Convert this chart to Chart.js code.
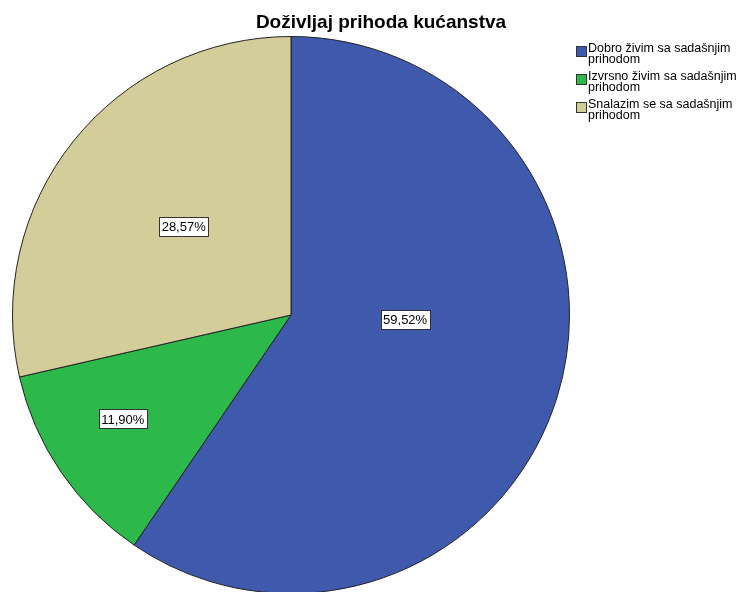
<!DOCTYPE html>
<html>
<head>
<meta charset="utf-8">
<script src="https://cdn.jsdelivr.net/npm/chart.js@4"></script>
<style>
  body { margin: 0; background: #fff; font-family: "Liberation Sans", Arial, sans-serif; }
  #wrap { position: relative; width: 742px; height: 592px; overflow: hidden; }
  #title { position: absolute; left: 0; width: 762px; top: 11px; text-align: center;
    font-weight: bold; font-size: 19px; color: #000; }
  #legend { position: absolute; left: 576px; top: 43px; font-size: 12.5px; color: #000; }
  .item { position: relative; padding-left: 12px; line-height: 10.5px; margin-bottom: 7px; width: 170px; }
  .box { position: absolute; left: 0; top: 3px; width: 9px; height: 9px; border: 1px solid #333; }
</style>
</head>
<body>
<div id="wrap">
  <canvas id="pie" width="742" height="600"></canvas>
  <div id="title">Doživljaj prihoda kućanstva</div>
  <div id="legend"></div>
</div>
<script>
// ==== DỮ LIỆU ====
const categories = ["Dobro živim sa sadašnjim prihodom", "Izvrsno živim sa sadašnjim prihodom", "Snalazim se sa sadašnjim prihodom"];
const legendLines = [["Dobro živim sa sadašnjim", "prihodom"], ["Izvrsno živim sa sadašnjim", "prihodom"], ["Snalazim se sa sadašnjim", "prihodom"]];
const percents = [59.52, 11.90, 28.57];
const colors = ["#3F59AC", "#2DB84B", "#D3CD99"];

// vị trí nhãn: phần góc trong lát và phần bán kính
const labelAngleFrac = [0.43, 0.56, 0.51];
const labelRadiusFrac = [0.41, 0.71, 0.50];

function formatPct(v) {
  return v.toFixed(2).replace(".", ",") + "%";
}

// legend HTML
const legendEl = document.getElementById("legend");
categories.forEach((c, i) => {
  legendEl.innerHTML += `<div class="item"><span class="box" style="background:${colors[i]}"></span>${legendLines[i].join("<br>")}</div>`;
});

// plugin vẽ nhãn phần trăm
const pctLabels = {
  id: "pctLabels",
  afterDatasetsDraw(chart) {
    const ctx = chart.ctx;
    const meta = chart.getDatasetMeta(0);
    ctx.save();
    ctx.font = "13px 'Liberation Sans', Arial, sans-serif";
    ctx.textAlign = "center";
    ctx.textBaseline = "middle";
    meta.data.forEach((arc, i) => {
      const p = arc.getProps(["x", "y", "startAngle", "endAngle", "outerRadius"], true);
      const a = p.startAngle + (p.endAngle - p.startAngle) * labelAngleFrac[i];
      const r = p.outerRadius * labelRadiusFrac[i];
      const x = p.x + Math.cos(a) * r;
      const y = p.y + Math.sin(a) * r;
      const txt = formatPct(percents[i]);
      const w = ctx.measureText(txt).width + 5;
      const h = 19;
      ctx.fillStyle = "#fff";
      ctx.fillRect(Math.round(x - w / 2) + 0.5, Math.round(y - h / 2) + 0.5, Math.round(w), h);
      ctx.strokeStyle = "#333";
      ctx.lineWidth = 1;
      ctx.strokeRect(Math.round(x - w / 2) + 0.5, Math.round(y - h / 2) + 0.5, Math.round(w), h);
      ctx.fillStyle = "#000";
      ctx.fillText(txt, x, y + 1);
    });
    ctx.restore();
  }
};

new Chart(document.getElementById("pie").getContext("2d"), {
  type: "pie",
  data: {
    labels: categories,
    datasets: [{
      data: percents,
      backgroundColor: colors,
      borderColor: "#222",
      borderWidth: 1
    }]
  },
  options: {
    responsive: false,
    animation: false,
    layout: { padding: { left: 12, right: 172, top: 36, bottom: 6 } },
    plugins: {
      legend: { display: false },
      title: { display: false },
      tooltip: { enabled: false }
    }
  },
  plugins: [pctLabels]
});
</script>
</body>
</html>
